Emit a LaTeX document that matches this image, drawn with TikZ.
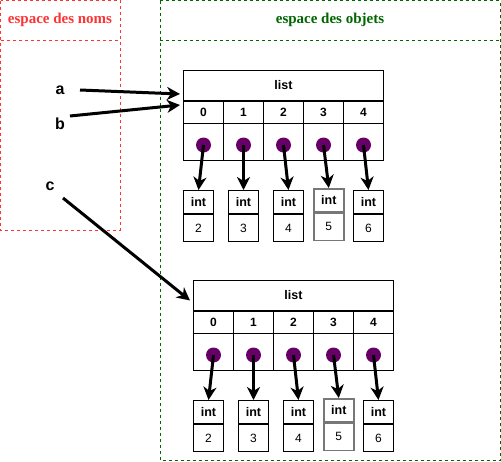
\documentclass[tikz,border=0pt]{standalone}
\usepackage{fontspec}
\setmainfont{Liberation Sans}
\newfontfamily\titlefont{Liberation Serif}
\usetikzlibrary{arrows.meta,calc}
\definecolor{NomsClr}{HTML}{FF3333}
\definecolor{ObjetsClr}{HTML}{006600}
\definecolor{PtrClr}{HTML}{660066}
\definecolor{GrisClr}{HTML}{777777}

\tikzset{
  espace/.style={line width=0.8pt,dash pattern=on 3pt off 3pt},
  titre/.style={font=\titlefont\bfseries\fontsize{15}{17}\selectfont},
  entete/.style={draw,line width=1pt,minimum width=200pt,minimum height=30pt,inner sep=0pt,anchor=north west,font=\bfseries\fontsize{12.5}{14}\selectfont},
  indice/.style={draw,line width=1pt,minimum width=40pt,minimum height=23pt,inner sep=0pt,anchor=north west,font=\bfseries\fontsize{12}{14}\selectfont},
  case/.style={draw,line width=1pt,minimum width=40pt,minimum height=37pt,inner sep=0pt,anchor=north west},
  ptr/.style={circle,fill=PtrClr,minimum size=15pt,inner sep=0pt},
  typebox/.style={draw,minimum width=30pt,minimum height=23pt,inner sep=0pt,anchor=north west,font=\bfseries\fontsize{12.5}{14}\selectfont},
  valbox/.style={draw,minimum width=30pt,minimum height=27pt,inner sep=0pt,anchor=north,font=\fontsize{12}{14}\selectfont},
  fleche/.style={-{Stealth[length=13pt,width=13pt,inset=4pt]},line width=3pt},
  nom/.style={font=\bfseries\fontsize{16}{18}\selectfont},
}

% one list object with its five int objects, #1 = prefix, (#2,#3) = top left
\newcommand{\listeobjets}[3]{%
  \node[entete] (#1list) at (#2,#3) {list};
  \foreach \k/\dx/\dy/\clr/\lw/\val in {0/0/0/black/1/2,1/45/0/black/1/3,2/90/0/black/1/4,3/130/-2/GrisClr/1.6/5,4/170/0/black/1/6}{
    \node[indice] (#1i\k) at ($(#2,#3)+(40*\k,30)$) {\k};
    \node[case] (#1c\k) at ($(#2,#3)+(40*\k,53)$) {};
    \node[ptr] (#1p\k) at ($(#1c\k.center)+(0,3)$) {};
    \node[typebox,draw=\clr,line width=\lw pt] (#1t\k) at ($(#2,#3)+(\dx,120+\dy)$) {int};
    \node[valbox,draw=\clr,line width=\lw pt] (#1v\k) at (#1t\k.south) {\val};
    \draw[fleche] (#1p\k.center) -- (#1t\k.north);
  }
  \draw[line width=2pt] (#1list.south west) -- (#1list.south east);
}

\begin{document}
\begin{tikzpicture}[x=1pt,y=-1pt]
\useasboundingbox (0,0) rectangle (501,461);

% espaces
\draw[espace,draw=NomsClr] (0.5,0.5) rectangle (120,230);
\draw[espace,draw=NomsClr] (0.5,40) -- (120,40);
\node[titre,text=NomsClr] (noms) at (60,20) {espace des noms};

\draw[espace,draw=ObjetsClr] (160,0.5) rectangle (500,460);
\draw[espace,draw=ObjetsClr] (160,40) -- (500,40);
\node[titre,text=ObjetsClr] (objets) at (330,20) {espace des objets};

% objets
\listeobjets{A-}{183}{70}
\listeobjets{B-}{193}{280}

% noms
\node[nom] (a) at (60,90) {a};
\node[nom] (b) at (60,124) {b};
\node[nom] (c) at (50,186) {c};

\draw[fleche] ($(a)+(20,0)$) -- ($(A-list.south west)+(-3,-7)$);
\draw[fleche] ($(b)+(10,-8)$) -- ($(A-list.south west)+(-3,4)$);
\draw[fleche] ($(c)+(13,12)$) -- ($(B-list.west)+(-3,5)$);

\end{tikzpicture}
\end{document}
